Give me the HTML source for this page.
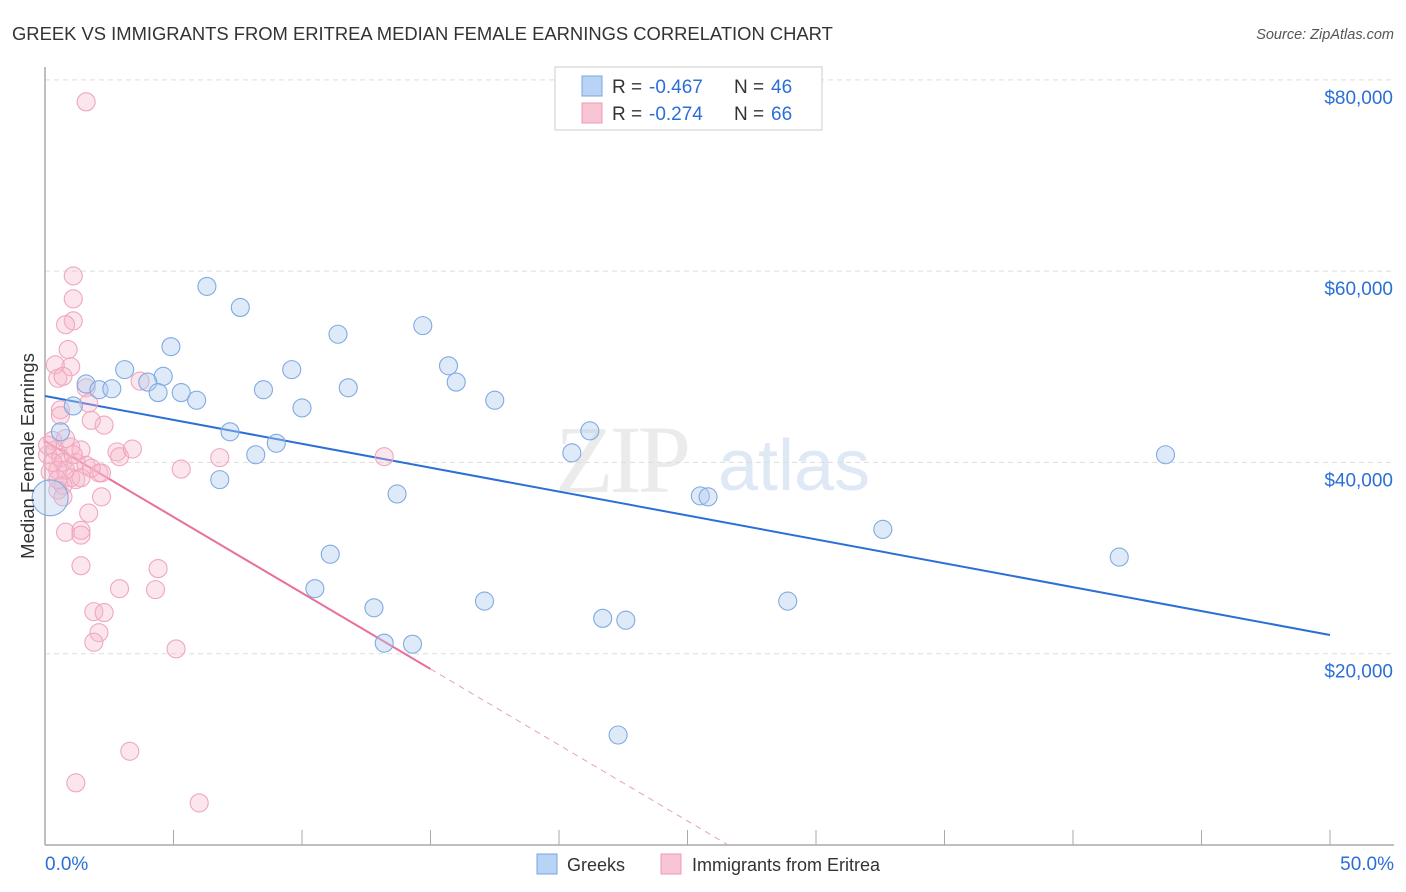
<!DOCTYPE html>
<html><head><meta charset="utf-8"><style>
body{margin:0;background:#fff;font-family:"Liberation Sans",sans-serif;}
svg{display:block}
</style></head><body>
<svg id="chart" width="1406" height="892" viewBox="0 0 1406 892">
<text x="12" y="40" font-size="18.4" fill="#333">GREEK VS IMMIGRANTS FROM ERITREA MEDIAN FEMALE EARNINGS CORRELATION CHART</text>
<text x="1394" y="39" font-size="14.5" fill="#555" font-style="italic" text-anchor="end">Source: ZipAtlas.com</text>
<text x="555" y="492" font-size="96" fill="#ebebeb" font-family="Liberation Serif" letter-spacing="-4">ZIP</text>
<text x="718" y="490" font-size="72" fill="#dfe8f5">atlas</text>
<g id="grid"></g>
<g id="axes"></g>
<g id="lines"></g>
<g id="pts"></g>
<text transform="translate(34,456) rotate(-90)" font-size="18.5" fill="#333" text-anchor="middle">Median Female Earnings</text>
<g>
<rect x="555" y="67" width="267" height="63" fill="#fff" stroke="#ccc"/>
<rect x="582" y="76" width="20" height="20" fill="#b9d3f4" stroke="#7aa6e3"/>
<rect x="582" y="103" width="20" height="20" fill="#f9c5d5" stroke="#ec9ab5"/>
<text x="612" y="93" font-size="19" fill="#333">R =</text>
<text x="649" y="93" font-size="19" fill="#2b6fd6">-0.467</text>
<text x="734" y="93" font-size="19" fill="#333">N =</text>
<text x="771" y="93" font-size="19" fill="#2b6fd6">46</text>
<text x="612" y="120" font-size="19" fill="#333">R =</text>
<text x="649" y="120" font-size="19" fill="#2b6fd6">-0.274</text>
<text x="734" y="120" font-size="19" fill="#333">N =</text>
<text x="771" y="120" font-size="19" fill="#2b6fd6">66</text>
</g>
<g>
<rect x="537" y="854" width="20" height="20" fill="#b9d3f4" stroke="#7aa6e3"/>
<text x="567" y="871" font-size="18" fill="#333">Greeks</text>
<rect x="661" y="854" width="20" height="20" fill="#f9c5d5" stroke="#ec9ab5"/>
<text x="692" y="871" font-size="18" fill="#333">Immigrants from Eritrea</text>
</g>
</svg>
<script>
const xTicks=[0,5,10,15,20,25,30,35,40,45,50];
const yTicks=[20000,40000,60000,80000];
const yTickLabels=["$20,000","$40,000","$60,000","$80,000"];
const greekX=[6.3,7.6,4.9,11.4,14.7,3.1,4.6,4.0,1.6,2.1,2.6,4.4,5.3,5.9,8.5,9.6,11.8,15.7,16.0,17.5,10.0,1.1,0.6,7.2,9.0,8.2,6.8,13.7,20.5,21.2,25.5,25.8,32.6,43.6,41.8,11.1,10.5,12.8,17.1,13.2,14.3,21.7,22.6,28.9,22.3,0.2];
const greekY=[58400,56200,52100,53400,54300,49700,49000,48400,48200,47600,47700,47300,47300,46500,47600,49700,47800,50100,48400,46500,45700,45900,43200,43200,42000,40800,38200,36700,41000,43300,36500,36400,33000,40800,30100,30400,26800,24800,25500,21100,21000,23700,23500,25500,11500,36300];
const eritX=[1.6,1.1,1.1,1.1,0.8,0.9,1.0,0.4,0.5,0.7,1.6,3.7,1.7,0.6,0.6,1.8,2.3,0.3,0.4,1.0,1.4,0.1,0.6,0.7,1.2,1.6,2.8,2.9,3.4,5.3,6.8,13.2,2.1,2.2,1.0,1.2,0.7,0.5,0.7,2.2,1.7,0.8,1.4,1.4,1.4,4.4,2.9,4.3,1.9,2.3,2.1,1.9,5.1,3.3,1.2,6.0,0.1,0.5,0.2,0.8,1.4,0.3,0.8,1.8,0.5,1.1];
const eritY=[77700,59500,57100,54800,54400,51800,50000,50200,48800,49000,47800,48500,46200,45500,44900,44400,43900,42300,41300,41600,41300,40800,40500,40000,40000,39700,41100,40600,41400,39300,40500,40600,38900,38900,38400,38200,37600,37100,36400,36400,34700,32700,32900,32400,29200,28900,26800,26700,24400,24300,22200,21200,20500,9800,6500,4400,41800,39200,39000,39200,38400,40000,42500,39400,38200,40800];
const greekTrend=[46940,21960];
const eritTrend=[42240,-1589];
const NS="http://www.w3.org/2000/svg";
const X=v=>45+v*25.7, Y=v=>845-v/104.55;
function mk(tag,attrs,parent){const e=document.createElementNS(NS,tag);for(const k in attrs)e.setAttribute(k,attrs[k]);parent.appendChild(e);return e;}
const grid=document.getElementById('grid'),axes=document.getElementById('axes'),lines=document.getElementById('lines'),pts=document.getElementById('pts');
yTicks.forEach((t,i)=>{
 const l=mk('line',{x1:45,x2:1394,y1:Y(t),y2:Y(t),stroke:'#ddd','stroke-dasharray':'5,4'},grid);
 
 
 const tx=mk('text',{x:1393,y:Y(t)+24,'font-size':19,fill:'#2b6fd6','text-anchor':'end'},axes);
 tx.textContent=yTickLabels[i];
 
 
});
const ya=mk('line',{x1:45,x2:45,y1:67,y2:845,stroke:'#aaa','stroke-width':1.5},axes);


const xa=mk('line',{x1:45,x2:1394,y1:845,y2:845,stroke:'#aaa','stroke-width':1.5},axes);


xTicks.forEach(t=>{
 const l=mk('line',{x1:X(t),x2:X(t),y1:830,y2:845,stroke:'#aaa'},axes);
 
 
});
const xl0=mk('text',{x:45,y:870,'font-size':19,fill:'#2b6fd6'},axes);xl0.textContent=xTicks[0].toFixed(1)+'%';


const xl1=mk('text',{x:1394,y:870,'font-size':19,fill:'#2b6fd6','text-anchor':'end'},axes);xl1.textContent=xTicks[xTicks.length-1].toFixed(1)+'%';


eritX.forEach((x,i)=>{
 const c=mk('circle',{cx:X(x),cy:Y(eritY[i]),r:9,fill:'rgba(247,184,203,0.35)',stroke:'#efa7be','stroke-width':1.1},pts);
 
 
});
greekX.forEach((x,i)=>{
 const big=i===greekX.length-1;
 const c=mk('circle',{cx:X(x),cy:Y(greekY[i]),r:big?18:9,fill:big?'rgba(174,203,240,0.35)':'rgba(174,203,240,0.4)',stroke:'#80aae2','stroke-width':1.1},pts);
 
 
});
const gl=mk('line',{x1:X(0),y1:Y(greekTrend[0]),x2:X(50),y2:Y(greekTrend[1]),stroke:'#2b6fd6','stroke-width':2},lines);


const ef=x=>eritTrend[0]+eritTrend[1]*x;
const pl=mk('line',{x1:X(0),y1:Y(ef(0)),x2:X(15),y2:Y(ef(15)),stroke:'#e8709a','stroke-width':2},lines);


const xz=-eritTrend[0]/eritTrend[1];
const pd=mk('line',{x1:X(15),y1:Y(ef(15)),x2:X(xz),y2:Y(0),stroke:'#e8a0b8','stroke-width':1,'stroke-dasharray':'6,5'},lines);


</script>
</body></html>
